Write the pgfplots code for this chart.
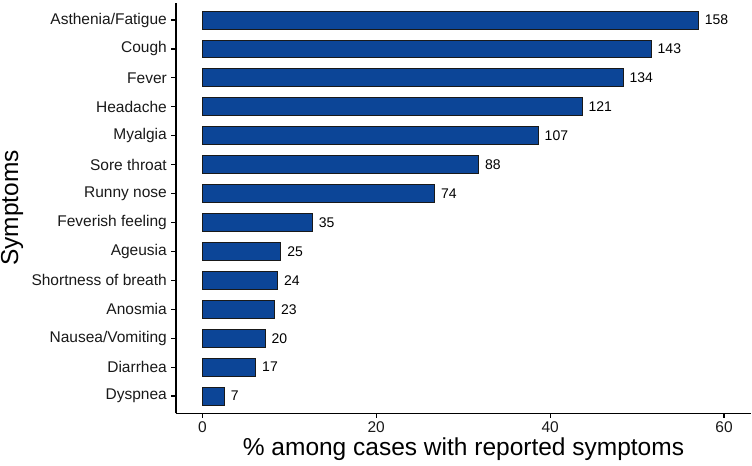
\documentclass[border=0pt]{standalone}
\usepackage{fontspec}
\setmainfont{Liberation Sans}
\usepackage{pgfplots}
\usepackage{pgfplotstable}
\pgfplotsset{compat=1.18}
\definecolor{barblue}{RGB}{12,69,151}

% pos = row from bottom, pct = % of 277 cases with symptoms, n = count
\pgfplotstableread{
pos pct n
1 2.53 7
2 6.14 17
3 7.22 20
4 8.30 23
5 8.66 24
6 9.03 25
7 12.64 35
8 26.71 74
9 31.77 88
10 38.63 107
11 43.68 121
12 48.38 134
13 51.62 143
14 57.04 158
}\symptoms

\begin{document}
\begin{tikzpicture}
\useasboundingbox (-176bp,-52bp) rectangle (576bp,413.4bp);
\begin{axis}[
    at={(0,0)}, anchor=south west,
    scale only axis, width=575bp, height=410.7bp,
    xmin=-3.03, xmax=63.1, ymin=0.4, ymax=14.6,
    enlargelimits=false,
    axis x line*=bottom, axis y line*=left,
    axis line style={line width=1.1bp, -},
    xtick={0,20,40,60}, ytick={1,...,14},
    yticklabels={Dyspnea, Diarrhea, Nausea/Vomiting, Anosmia, Shortness of breath, Ageusia, Feverish feeling, Runny nose, Sore throat, Myalgia, Headache, Fever, Cough, Asthenia/Fatigue},
    tick align=outside, major tick length=4.5bp,
    tick style={line width=1.1bp, black},
    ticklabel style={font=\fontsize{15.5bp}{18bp}\selectfont, text=black!90},
    yticklabel style={inner sep=0pt, xshift=-4.5bp},
    xticklabel style={inner sep=0pt, yshift=-4bp},
    /pgf/number format/assume math mode=true,
    xlabel={\% among cases with reported symptoms},
    ylabel={Symptoms},
    label style={font=\fontsize{24.5bp}{28bp}\selectfont},
    xlabel style={at={(axis description cs:0.5,0)}, anchor=center, yshift=-36bp},
    ylabel style={at={(axis description cs:-0.2852,0.5)}, anchor=center, rotate=0},
    xbar, bar width=0.62,
    nodes near coords, point meta=explicit symbolic,
    nodes near coords style={font=\fontsize{14bp}{16bp}\selectfont, anchor=west, inner sep=0pt, xshift=6bp},
]
\addplot[fill=barblue, draw=black!90, line width=1bp] table[x=pct, y=pos, meta=n] {\symptoms};
\end{axis}
\end{tikzpicture}
\end{document}
